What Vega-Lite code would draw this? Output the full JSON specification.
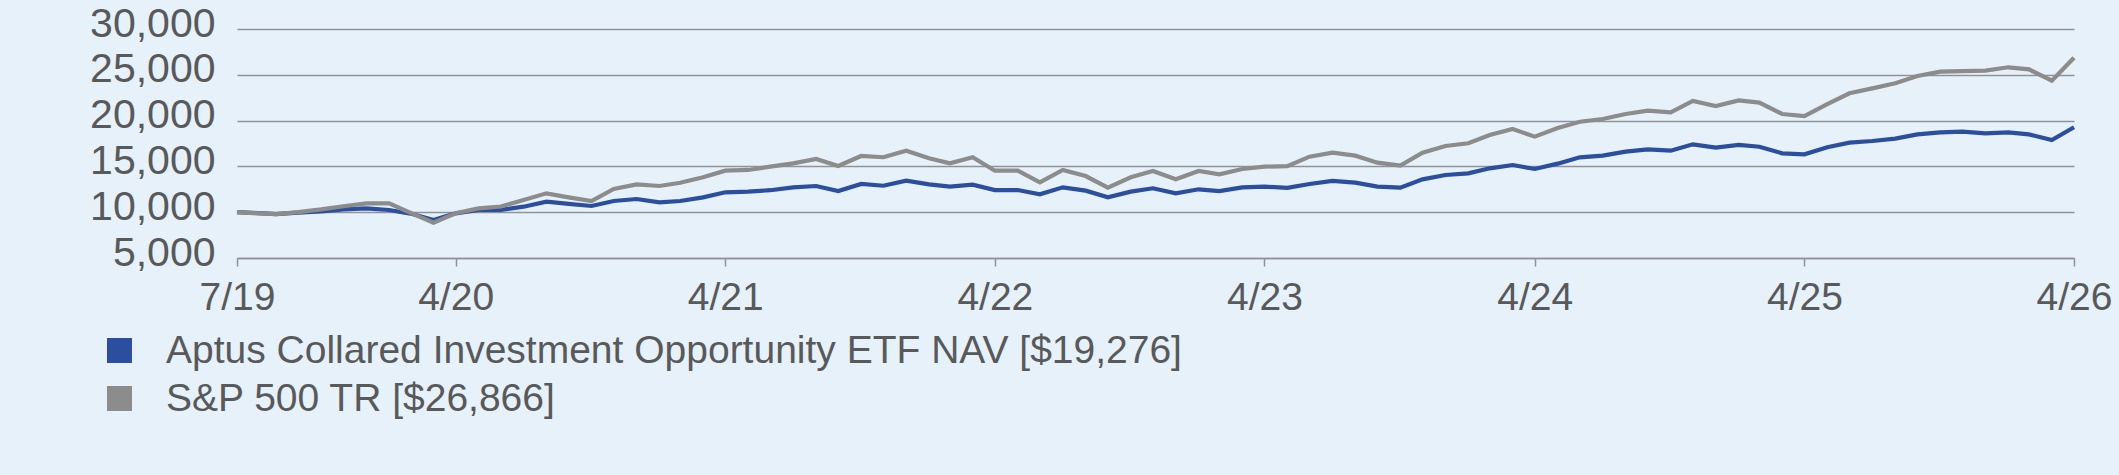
{
  "$schema": "https://vega.github.io/schema/vega-lite/v6.json",
  "autosize": {"type": "none"},
  "padding": {"left": 237, "top": 29, "right": 45, "bottom": 217},
  "width": 1837,
  "height": 229,
  "background": "#E7F1FA",
  "config": {
    "view": {"stroke": null},
    "font": "Liberation Sans",
    "axis": {"labelFont": "Liberation Sans", "labelColor": "#58595B"},
    "legend": {"labelFont": "Liberation Sans", "labelColor": "#58595B"}
  },
  "datasets": {
    "series": [
      {"date": "2019/07/09", "s": "Aptus Collared Investment Opportunity ETF NAV [$19,276]", "v": 10000},
      {"date": "2019/07/31", "s": "Aptus Collared Investment Opportunity ETF NAV [$19,276]", "v": 9920},
      {"date": "2019/08/31", "s": "Aptus Collared Investment Opportunity ETF NAV [$19,276]", "v": 9800},
      {"date": "2019/09/30", "s": "Aptus Collared Investment Opportunity ETF NAV [$19,276]", "v": 9950},
      {"date": "2019/10/31", "s": "Aptus Collared Investment Opportunity ETF NAV [$19,276]", "v": 10100},
      {"date": "2019/11/30", "s": "Aptus Collared Investment Opportunity ETF NAV [$19,276]", "v": 10300},
      {"date": "2019/12/31", "s": "Aptus Collared Investment Opportunity ETF NAV [$19,276]", "v": 10420},
      {"date": "2020/01/31", "s": "Aptus Collared Investment Opportunity ETF NAV [$19,276]", "v": 10240},
      {"date": "2020/02/29", "s": "Aptus Collared Investment Opportunity ETF NAV [$19,276]", "v": 9850},
      {"date": "2020/03/31", "s": "Aptus Collared Investment Opportunity ETF NAV [$19,276]", "v": 9150},
      {"date": "2020/04/30", "s": "Aptus Collared Investment Opportunity ETF NAV [$19,276]", "v": 9880},
      {"date": "2020/05/31", "s": "Aptus Collared Investment Opportunity ETF NAV [$19,276]", "v": 10240},
      {"date": "2020/06/30", "s": "Aptus Collared Investment Opportunity ETF NAV [$19,276]", "v": 10250},
      {"date": "2020/07/31", "s": "Aptus Collared Investment Opportunity ETF NAV [$19,276]", "v": 10600},
      {"date": "2020/08/31", "s": "Aptus Collared Investment Opportunity ETF NAV [$19,276]", "v": 11150},
      {"date": "2020/09/30", "s": "Aptus Collared Investment Opportunity ETF NAV [$19,276]", "v": 10900},
      {"date": "2020/10/31", "s": "Aptus Collared Investment Opportunity ETF NAV [$19,276]", "v": 10680},
      {"date": "2020/11/30", "s": "Aptus Collared Investment Opportunity ETF NAV [$19,276]", "v": 11220},
      {"date": "2020/12/31", "s": "Aptus Collared Investment Opportunity ETF NAV [$19,276]", "v": 11440},
      {"date": "2021/01/31", "s": "Aptus Collared Investment Opportunity ETF NAV [$19,276]", "v": 11080},
      {"date": "2021/02/28", "s": "Aptus Collared Investment Opportunity ETF NAV [$19,276]", "v": 11220},
      {"date": "2021/03/31", "s": "Aptus Collared Investment Opportunity ETF NAV [$19,276]", "v": 11620},
      {"date": "2021/04/30", "s": "Aptus Collared Investment Opportunity ETF NAV [$19,276]", "v": 12170},
      {"date": "2021/05/31", "s": "Aptus Collared Investment Opportunity ETF NAV [$19,276]", "v": 12240},
      {"date": "2021/06/30", "s": "Aptus Collared Investment Opportunity ETF NAV [$19,276]", "v": 12400},
      {"date": "2021/07/31", "s": "Aptus Collared Investment Opportunity ETF NAV [$19,276]", "v": 12710},
      {"date": "2021/08/31", "s": "Aptus Collared Investment Opportunity ETF NAV [$19,276]", "v": 12860},
      {"date": "2021/09/30", "s": "Aptus Collared Investment Opportunity ETF NAV [$19,276]", "v": 12310},
      {"date": "2021/10/31", "s": "Aptus Collared Investment Opportunity ETF NAV [$19,276]", "v": 13080},
      {"date": "2021/11/30", "s": "Aptus Collared Investment Opportunity ETF NAV [$19,276]", "v": 12890},
      {"date": "2021/12/31", "s": "Aptus Collared Investment Opportunity ETF NAV [$19,276]", "v": 13440},
      {"date": "2022/01/31", "s": "Aptus Collared Investment Opportunity ETF NAV [$19,276]", "v": 13040},
      {"date": "2022/02/28", "s": "Aptus Collared Investment Opportunity ETF NAV [$19,276]", "v": 12790},
      {"date": "2022/03/31", "s": "Aptus Collared Investment Opportunity ETF NAV [$19,276]", "v": 13010},
      {"date": "2022/04/30", "s": "Aptus Collared Investment Opportunity ETF NAV [$19,276]", "v": 12420},
      {"date": "2022/05/31", "s": "Aptus Collared Investment Opportunity ETF NAV [$19,276]", "v": 12420},
      {"date": "2022/06/30", "s": "Aptus Collared Investment Opportunity ETF NAV [$19,276]", "v": 11950},
      {"date": "2022/07/31", "s": "Aptus Collared Investment Opportunity ETF NAV [$19,276]", "v": 12715},
      {"date": "2022/08/31", "s": "Aptus Collared Investment Opportunity ETF NAV [$19,276]", "v": 12350},
      {"date": "2022/09/30", "s": "Aptus Collared Investment Opportunity ETF NAV [$19,276]", "v": 11620},
      {"date": "2022/10/31", "s": "Aptus Collared Investment Opportunity ETF NAV [$19,276]", "v": 12240},
      {"date": "2022/11/30", "s": "Aptus Collared Investment Opportunity ETF NAV [$19,276]", "v": 12610},
      {"date": "2022/12/31", "s": "Aptus Collared Investment Opportunity ETF NAV [$19,276]", "v": 12060},
      {"date": "2023/01/31", "s": "Aptus Collared Investment Opportunity ETF NAV [$19,276]", "v": 12500},
      {"date": "2023/02/28", "s": "Aptus Collared Investment Opportunity ETF NAV [$19,276]", "v": 12310},
      {"date": "2023/03/31", "s": "Aptus Collared Investment Opportunity ETF NAV [$19,276]", "v": 12715},
      {"date": "2023/04/30", "s": "Aptus Collared Investment Opportunity ETF NAV [$19,276]", "v": 12790},
      {"date": "2023/05/31", "s": "Aptus Collared Investment Opportunity ETF NAV [$19,276]", "v": 12650},
      {"date": "2023/06/30", "s": "Aptus Collared Investment Opportunity ETF NAV [$19,276]", "v": 13080},
      {"date": "2023/07/31", "s": "Aptus Collared Investment Opportunity ETF NAV [$19,276]", "v": 13410},
      {"date": "2023/08/31", "s": "Aptus Collared Investment Opportunity ETF NAV [$19,276]", "v": 13220},
      {"date": "2023/09/30", "s": "Aptus Collared Investment Opportunity ETF NAV [$19,276]", "v": 12790},
      {"date": "2023/10/31", "s": "Aptus Collared Investment Opportunity ETF NAV [$19,276]", "v": 12680},
      {"date": "2023/11/30", "s": "Aptus Collared Investment Opportunity ETF NAV [$19,276]", "v": 13590},
      {"date": "2023/12/31", "s": "Aptus Collared Investment Opportunity ETF NAV [$19,276]", "v": 14060},
      {"date": "2024/01/31", "s": "Aptus Collared Investment Opportunity ETF NAV [$19,276]", "v": 14240},
      {"date": "2024/02/29", "s": "Aptus Collared Investment Opportunity ETF NAV [$19,276]", "v": 14790},
      {"date": "2024/03/31", "s": "Aptus Collared Investment Opportunity ETF NAV [$19,276]", "v": 15150},
      {"date": "2024/04/30", "s": "Aptus Collared Investment Opportunity ETF NAV [$19,276]", "v": 14720},
      {"date": "2024/05/31", "s": "Aptus Collared Investment Opportunity ETF NAV [$19,276]", "v": 15300},
      {"date": "2024/06/30", "s": "Aptus Collared Investment Opportunity ETF NAV [$19,276]", "v": 15990},
      {"date": "2024/07/31", "s": "Aptus Collared Investment Opportunity ETF NAV [$19,276]", "v": 16170},
      {"date": "2024/08/31", "s": "Aptus Collared Investment Opportunity ETF NAV [$19,276]", "v": 16610},
      {"date": "2024/09/30", "s": "Aptus Collared Investment Opportunity ETF NAV [$19,276]", "v": 16860},
      {"date": "2024/10/31", "s": "Aptus Collared Investment Opportunity ETF NAV [$19,276]", "v": 16720},
      {"date": "2024/11/30", "s": "Aptus Collared Investment Opportunity ETF NAV [$19,276]", "v": 17410},
      {"date": "2024/12/31", "s": "Aptus Collared Investment Opportunity ETF NAV [$19,276]", "v": 17045},
      {"date": "2025/01/31", "s": "Aptus Collared Investment Opportunity ETF NAV [$19,276]", "v": 17340},
      {"date": "2025/02/28", "s": "Aptus Collared Investment Opportunity ETF NAV [$19,276]", "v": 17150},
      {"date": "2025/03/31", "s": "Aptus Collared Investment Opportunity ETF NAV [$19,276]", "v": 16430},
      {"date": "2025/04/30", "s": "Aptus Collared Investment Opportunity ETF NAV [$19,276]", "v": 16320},
      {"date": "2025/05/31", "s": "Aptus Collared Investment Opportunity ETF NAV [$19,276]", "v": 17100},
      {"date": "2025/06/30", "s": "Aptus Collared Investment Opportunity ETF NAV [$19,276]", "v": 17590},
      {"date": "2025/07/31", "s": "Aptus Collared Investment Opportunity ETF NAV [$19,276]", "v": 17770},
      {"date": "2025/08/31", "s": "Aptus Collared Investment Opportunity ETF NAV [$19,276]", "v": 18030},
      {"date": "2025/09/30", "s": "Aptus Collared Investment Opportunity ETF NAV [$19,276]", "v": 18500},
      {"date": "2025/10/31", "s": "Aptus Collared Investment Opportunity ETF NAV [$19,276]", "v": 18720},
      {"date": "2025/11/30", "s": "Aptus Collared Investment Opportunity ETF NAV [$19,276]", "v": 18790},
      {"date": "2025/12/31", "s": "Aptus Collared Investment Opportunity ETF NAV [$19,276]", "v": 18610},
      {"date": "2026/01/31", "s": "Aptus Collared Investment Opportunity ETF NAV [$19,276]", "v": 18720},
      {"date": "2026/02/28", "s": "Aptus Collared Investment Opportunity ETF NAV [$19,276]", "v": 18500},
      {"date": "2026/03/31", "s": "Aptus Collared Investment Opportunity ETF NAV [$19,276]", "v": 17880},
      {"date": "2026/04/30", "s": "Aptus Collared Investment Opportunity ETF NAV [$19,276]", "v": 19276},
      {"date": "2019/07/09", "s": "S&P 500 TR [$26,866]", "v": 10000},
      {"date": "2019/07/31", "s": "S&P 500 TR [$26,866]", "v": 9900},
      {"date": "2019/08/31", "s": "S&P 500 TR [$26,866]", "v": 9800},
      {"date": "2019/09/30", "s": "S&P 500 TR [$26,866]", "v": 10000},
      {"date": "2019/10/31", "s": "S&P 500 TR [$26,866]", "v": 10300},
      {"date": "2019/11/30", "s": "S&P 500 TR [$26,866]", "v": 10650},
      {"date": "2019/12/31", "s": "S&P 500 TR [$26,866]", "v": 10970},
      {"date": "2020/01/31", "s": "S&P 500 TR [$26,866]", "v": 10970},
      {"date": "2020/02/29", "s": "S&P 500 TR [$26,866]", "v": 9930},
      {"date": "2020/03/31", "s": "S&P 500 TR [$26,866]", "v": 8860},
      {"date": "2020/04/30", "s": "S&P 500 TR [$26,866]", "v": 9880},
      {"date": "2020/05/31", "s": "S&P 500 TR [$26,866]", "v": 10420},
      {"date": "2020/06/30", "s": "S&P 500 TR [$26,866]", "v": 10620},
      {"date": "2020/07/31", "s": "S&P 500 TR [$26,866]", "v": 11330},
      {"date": "2020/08/31", "s": "S&P 500 TR [$26,866]", "v": 12060},
      {"date": "2020/09/30", "s": "S&P 500 TR [$26,866]", "v": 11620},
      {"date": "2020/10/31", "s": "S&P 500 TR [$26,866]", "v": 11220},
      {"date": "2020/11/30", "s": "S&P 500 TR [$26,866]", "v": 12530},
      {"date": "2020/12/31", "s": "S&P 500 TR [$26,866]", "v": 13040},
      {"date": "2021/01/31", "s": "S&P 500 TR [$26,866]", "v": 12860},
      {"date": "2021/02/28", "s": "S&P 500 TR [$26,866]", "v": 13220},
      {"date": "2021/03/31", "s": "S&P 500 TR [$26,866]", "v": 13810},
      {"date": "2021/04/30", "s": "S&P 500 TR [$26,866]", "v": 14530},
      {"date": "2021/05/31", "s": "S&P 500 TR [$26,866]", "v": 14610},
      {"date": "2021/06/30", "s": "S&P 500 TR [$26,866]", "v": 14970},
      {"date": "2021/07/31", "s": "S&P 500 TR [$26,866]", "v": 15330},
      {"date": "2021/08/31", "s": "S&P 500 TR [$26,866]", "v": 15810},
      {"date": "2021/09/30", "s": "S&P 500 TR [$26,866]", "v": 15040},
      {"date": "2021/10/31", "s": "S&P 500 TR [$26,866]", "v": 16140},
      {"date": "2021/11/30", "s": "S&P 500 TR [$26,866]", "v": 16000},
      {"date": "2021/12/31", "s": "S&P 500 TR [$26,866]", "v": 16710},
      {"date": "2022/01/31", "s": "S&P 500 TR [$26,866]", "v": 15880},
      {"date": "2022/02/28", "s": "S&P 500 TR [$26,866]", "v": 15330},
      {"date": "2022/03/31", "s": "S&P 500 TR [$26,866]", "v": 16000},
      {"date": "2022/04/30", "s": "S&P 500 TR [$26,866]", "v": 14530},
      {"date": "2022/05/31", "s": "S&P 500 TR [$26,866]", "v": 14530},
      {"date": "2022/06/30", "s": "S&P 500 TR [$26,866]", "v": 13260},
      {"date": "2022/07/31", "s": "S&P 500 TR [$26,866]", "v": 14610},
      {"date": "2022/08/31", "s": "S&P 500 TR [$26,866]", "v": 13950},
      {"date": "2022/09/30", "s": "S&P 500 TR [$26,866]", "v": 12680},
      {"date": "2022/10/31", "s": "S&P 500 TR [$26,866]", "v": 13810},
      {"date": "2022/11/30", "s": "S&P 500 TR [$26,866]", "v": 14500},
      {"date": "2022/12/31", "s": "S&P 500 TR [$26,866]", "v": 13590},
      {"date": "2023/01/31", "s": "S&P 500 TR [$26,866]", "v": 14500},
      {"date": "2023/02/28", "s": "S&P 500 TR [$26,866]", "v": 14140},
      {"date": "2023/03/31", "s": "S&P 500 TR [$26,866]", "v": 14720},
      {"date": "2023/04/30", "s": "S&P 500 TR [$26,866]", "v": 14970},
      {"date": "2023/05/31", "s": "S&P 500 TR [$26,866]", "v": 15030},
      {"date": "2023/06/30", "s": "S&P 500 TR [$26,866]", "v": 16060},
      {"date": "2023/07/31", "s": "S&P 500 TR [$26,866]", "v": 16500},
      {"date": "2023/08/31", "s": "S&P 500 TR [$26,866]", "v": 16170},
      {"date": "2023/09/30", "s": "S&P 500 TR [$26,866]", "v": 15410},
      {"date": "2023/10/31", "s": "S&P 500 TR [$26,866]", "v": 15080},
      {"date": "2023/11/30", "s": "S&P 500 TR [$26,866]", "v": 16500},
      {"date": "2023/12/31", "s": "S&P 500 TR [$26,866]", "v": 17230},
      {"date": "2024/01/31", "s": "S&P 500 TR [$26,866]", "v": 17520},
      {"date": "2024/02/29", "s": "S&P 500 TR [$26,866]", "v": 18430},
      {"date": "2024/03/31", "s": "S&P 500 TR [$26,866]", "v": 19080},
      {"date": "2024/04/30", "s": "S&P 500 TR [$26,866]", "v": 18250},
      {"date": "2024/05/31", "s": "S&P 500 TR [$26,866]", "v": 19200},
      {"date": "2024/06/30", "s": "S&P 500 TR [$26,866]", "v": 19880},
      {"date": "2024/07/31", "s": "S&P 500 TR [$26,866]", "v": 20170},
      {"date": "2024/08/31", "s": "S&P 500 TR [$26,866]", "v": 20720},
      {"date": "2024/09/30", "s": "S&P 500 TR [$26,866]", "v": 21080},
      {"date": "2024/10/31", "s": "S&P 500 TR [$26,866]", "v": 20900},
      {"date": "2024/11/30", "s": "S&P 500 TR [$26,866]", "v": 22140},
      {"date": "2024/12/31", "s": "S&P 500 TR [$26,866]", "v": 21590},
      {"date": "2025/01/31", "s": "S&P 500 TR [$26,866]", "v": 22210},
      {"date": "2025/02/28", "s": "S&P 500 TR [$26,866]", "v": 21960},
      {"date": "2025/03/31", "s": "S&P 500 TR [$26,866]", "v": 20720},
      {"date": "2025/04/30", "s": "S&P 500 TR [$26,866]", "v": 20500},
      {"date": "2025/05/31", "s": "S&P 500 TR [$26,866]", "v": 21800},
      {"date": "2025/06/30", "s": "S&P 500 TR [$26,866]", "v": 22980},
      {"date": "2025/07/31", "s": "S&P 500 TR [$26,866]", "v": 23520},
      {"date": "2025/08/31", "s": "S&P 500 TR [$26,866]", "v": 24070},
      {"date": "2025/09/30", "s": "S&P 500 TR [$26,866]", "v": 24870},
      {"date": "2025/10/31", "s": "S&P 500 TR [$26,866]", "v": 25340},
      {"date": "2025/11/30", "s": "S&P 500 TR [$26,866]", "v": 25410},
      {"date": "2025/12/31", "s": "S&P 500 TR [$26,866]", "v": 25450},
      {"date": "2026/01/31", "s": "S&P 500 TR [$26,866]", "v": 25820},
      {"date": "2026/02/28", "s": "S&P 500 TR [$26,866]", "v": 25600},
      {"date": "2026/03/31", "s": "S&P 500 TR [$26,866]", "v": 24360},
      {"date": "2026/04/30", "s": "S&P 500 TR [$26,866]", "v": 26866}
    ]
  },
  "data": {"name": "series"},
  "mark": {"type": "line", "strokeWidth": 4.2, "strokeJoin": "miter", "strokeCap": "butt"},
  "encoding": {
    "x": {
      "field": "date",
      "type": "temporal",
      "scale": {"domain": [{"year": 2019, "month": 7, "date": 9}, {"year": 2026, "month": 4, "date": 30}]},
      "axis": {
        "title": null,
        "grid": false,
        "values": [
          {"year": 2019, "month": 7, "date": 9},
          {"year": 2020, "month": 4, "date": 30},
          {"year": 2021, "month": 4, "date": 30},
          {"year": 2022, "month": 4, "date": 30},
          {"year": 2023, "month": 4, "date": 30},
          {"year": 2024, "month": 4, "date": 30},
          {"year": 2025, "month": 4, "date": 30},
          {"year": 2026, "month": 4, "date": 30}
        ],
        "format": "%-m/%y",
        "labelFontSize": 39,
        "labelFlush": false,
        "labelOverlap": false,
        "labelPadding": 12,
        "domain": true,
        "domainColor": "#8F9399",
        "domainWidth": 1.5,
        "ticks": true,
        "tickSize": 8,
        "tickColor": "#8F9399",
        "tickWidth": 1.5
      }
    },
    "y": {
      "field": "v",
      "type": "quantitative",
      "scale": {"domain": [5000, 30000], "nice": false, "zero": false},
      "axis": {
        "title": null,
        "values": [5000, 10000, 15000, 20000, 25000, 30000],
        "format": ",d",
        "labelFontSize": 41,
        "labelPadding": 22,
        "labelOffset": -5,
        "domain": false,
        "ticks": false,
        "grid": true,
        "gridColor": "#8F9399",
        "gridWidth": 1.5
      }
    },
    "color": {
      "field": "s",
      "type": "nominal",
      "sort": ["Aptus Collared Investment Opportunity ETF NAV [$19,276]", "S&P 500 TR [$26,866]"],
      "scale": {
        "domain": ["Aptus Collared Investment Opportunity ETF NAV [$19,276]", "S&P 500 TR [$26,866]"],
        "range": ["#2B4F9E", "#8C8C8C"]
      },
      "legend": {
        "title": null,
        "orient": "none",
        "legendX": -137,
        "legendY": 302,
        "direction": "vertical",
        "symbolType": "square",
        "symbolSize": 625,
        "symbolStrokeWidth": 0,
        "labelFontSize": 39,
        "labelOffset": 27,
        "rowPadding": 8,
        "padding": 0,
        "labelLimit": 2000,
        "encode": {
          "symbols": {
            "update": {
              "fill": {"scale": "color", "field": "value"},
              "stroke": {"value": "transparent"},
              "shape": {"value": "square"},
              "size": {"value": 625},
              "opacity": {"value": 1}
            }
          }
        }
      }
    }
  }
}
